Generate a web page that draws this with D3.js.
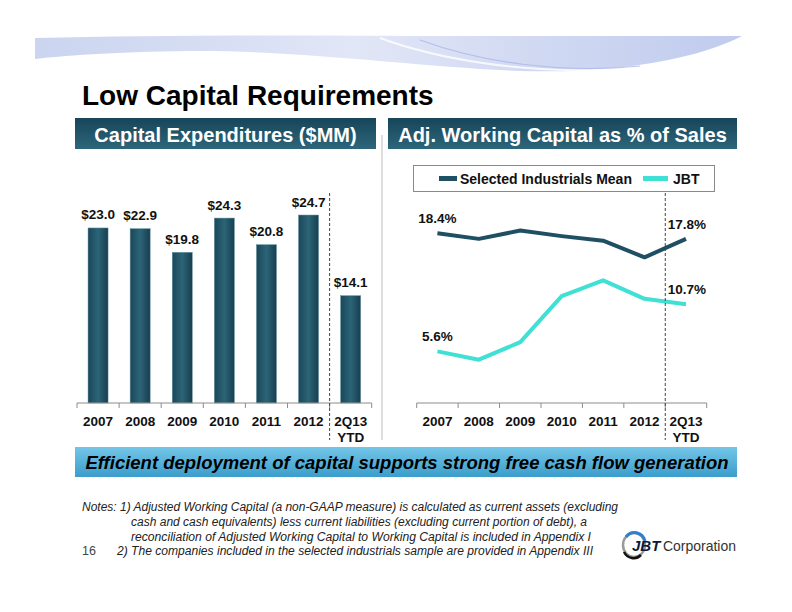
<!DOCTYPE html>
<html>
<head>
<meta charset="utf-8">
<script src="https://cdn.jsdelivr.net/npm/d3@7"></script>
<style>
  body { margin: 0; background: #fff; }
  svg { display: block; font-family: "Liberation Sans", Arial, sans-serif; }
</style>
</head>
<body>
<svg id="slide" width="792" height="612"></svg>
<script>
// chart data
const years = ["2007", "2008", "2009", "2010", "2011", "2012", "2Q13"];
const yearLines = [["2007"], ["2008"], ["2009"], ["2010"], ["2011"], ["2012"], ["2Q13", "YTD"]];
const capex = [23.0, 22.9, 19.8, 24.3, 20.8, 24.7, 14.1];
const industrialsMean = [18.4, 17.8, 18.7, 18.1, 17.6, 15.8, 17.8];
const jbtWc = [5.6, 4.7, 6.6, 11.6, 13.3, 11.3, 10.7];
const seriesNames = ["Selected Industrials Mean", "JBT"];
const notes = [
  "Notes: 1) Adjusted Working Capital (a non-GAAP measure) is calculated as current assets (excluding",
  "cash and cash equivalents) less current liabilities (excluding current portion of debt), a",
  "reconciliation of Adjusted Working Capital to Working Capital is included in Appendix I",
  "2) The companies included in the selected industrials sample are provided in Appendix III"
];

const svg = d3.select("#slide");
const defs = svg.append("defs");

function grad(id, stops, vertical) {
  const g = defs.append("linearGradient").attr("id", id)
      .attr("x1", 0).attr("y1", 0)
      .attr("x2", vertical ? 0 : 1).attr("y2", vertical ? 1 : 0);
  stops.forEach(([o, c, op]) => g.append("stop").attr("offset", o).attr("stop-color", c).attr("stop-opacity", op == null ? 1 : op));
}
grad("swoosh", [[0, "#c5d0ee", 0.9], [0.45, "#e2e7f7", 1], [1, "#b9c6ec", 0.9]]);
grad("hdr", [[0, "#174559"], [1, "#2d667b"]], true);
grad("bar", [[0, "#1a4759"], [0.5, "#2c6477"], [1, "#173f50"]]);
grad("banner", [[0, "#74c6e8"], [1, "#3b9dcb"]], true);

// header swoosh
svg.append("path")
    .attr("d", "M35,38 C150,35 300,35 420,36 L742,36 C700,58 620,74 520,71 C420,67 300,50 190,51 C110,52 60,56 35,59 Z")
    .attr("fill", "url(#swoosh)");
svg.append("path")
    .attr("d", "M380,38 C440,60 520,72 600,70 C660,68 710,55 742,38")
    .attr("fill", "none").attr("stroke", "#fff").attr("stroke-width", 2).attr("opacity", 0.8);
svg.append("path")
    .attr("d", "M420,40 C480,62 560,74 640,66")
    .attr("fill", "none").attr("stroke", "#a9b8e6").attr("stroke-width", 1.2).attr("opacity", 0.8);

svg.append("text").attr("x", 82).attr("y", 105)
    .attr("font-size", 28).attr("font-weight", "bold").attr("fill", "#000")
    .text("Low Capital Requirements");

// section headers
[[75, 376, "Capital Expenditures ($MM)"], [388, 737, "Adj. Working Capital as % of Sales"]].forEach(([x0, x1, t]) => {
  svg.append("rect").attr("x", x0).attr("y", 118).attr("width", x1 - x0).attr("height", 31).attr("fill", "url(#hdr)");
  svg.append("text").attr("x", (x0 + x1) / 2).attr("y", 141.5).attr("text-anchor", "middle")
      .attr("font-size", 20).attr("font-weight", "bold").attr("fill", "#fff").text(t);
});

svg.append("line").attr("x1", 382).attr("x2", 382).attr("y1", 135).attr("y2", 440)
    .attr("stroke", "#bdbdbd").attr("stroke-width", 1);

const baseY = 403;

function categoryAxis(x) {
  const g = svg.append("g");
  g.append("line").attr("x1", x.range()[0]).attr("x2", x.range()[1])
      .attr("y1", baseY).attr("y2", baseY).attr("stroke", "#8c8c8c");
  d3.range(years.length + 1).forEach(i => {
    const tx = x.range()[0] + i * x.step();
    g.append("line").attr("x1", tx).attr("x2", tx).attr("y1", baseY).attr("y2", baseY + 5).attr("stroke", "#8c8c8c");
  });
  const lab = g.selectAll("text.cat").data(years).join("text")
      .attr("class", "cat")
      .attr("x", d => x(d) + x.bandwidth() / 2)
      .attr("y", 425.5)
      .attr("text-anchor", "middle").attr("font-size", 13.5).attr("font-weight", "bold").attr("fill", "#111");
  lab.each(function(d, i) {
    yearLines[i].forEach((s, k) => d3.select(this).append("tspan")
        .attr("x", x(d) + x.bandwidth() / 2).attr("dy", k ? 16 : 0).text(s));
  });
  const dx = x.range()[0] + 6 * x.step();
  g.append("line").attr("x1", dx).attr("x2", dx).attr("y1", 193).attr("y2", 440)
      .attr("stroke", "#444").attr("stroke-dasharray", "3,2");
}

// left: capital expenditures bars
const xL = d3.scaleBand().domain(years).range([77, 371.7]).paddingInner(0.525).paddingOuter(0.2625);
const yL = d3.scaleLinear().domain([0, 25]).range([baseY, baseY - 25 * 7.61]);
const fmt$ = d3.format("$.1f");

svg.append("g").selectAll("rect").data(capex).join("rect")
    .attr("x", (d, i) => xL(years[i]))
    .attr("y", d => yL(d))
    .attr("width", xL.bandwidth())
    .attr("height", d => baseY - yL(d))
    .attr("fill", "url(#bar)")
    .attr("stroke", "#5f8e9c").attr("stroke-width", 0.5);

svg.append("g").selectAll("text").data(capex).join("text")
    .attr("x", (d, i) => xL(years[i]) + xL.bandwidth() / 2)
    .attr("y", d => yL(d) - 8.5)
    .attr("text-anchor", "middle").attr("font-size", 13.5).attr("font-weight", "bold").attr("fill", "#111")
    .text(d => fmt$(d));

categoryAxis(xL);

// right: working capital lines
const xR = d3.scaleBand().domain(years).range([416.7, 706.7]);
const yR = d3.scaleLinear().domain([0, 20]).range([baseY, baseY - 20 * 9.22]);
const line = d3.line().x((d, i) => xR(years[i]) + xR.bandwidth() / 2).y(d => yR(d));
const colors = ["#1f4f63", "#40e0d4"];

[industrialsMean, jbtWc].forEach((s, k) => {
  svg.append("path").datum(s).attr("d", line)
      .attr("fill", "none").attr("stroke", colors[k]).attr("stroke-width", 4)
      .attr("stroke-linejoin", "round");
  [0, s.length - 1].forEach(i => {
    svg.append("text")
        .attr("x", xR(years[i]) + xR.bandwidth() / 2 + (i ? 1 : 0))
        .attr("y", yR(s[i]) - 10)
        .attr("text-anchor", "middle").attr("font-size", 13.5).attr("font-weight", "bold").attr("fill", "#111")
        .text(s[i].toFixed(1) + "%");
  });
});

categoryAxis(xR);

// legend
svg.append("rect").attr("x", 413.5).attr("y", 165.5).attr("width", 301).attr("height", 26)
    .attr("fill", "#fff").attr("stroke", "#8a8a8a");
[[439, 460, 0], [643, 673, 1]].forEach(([lx, tx, k]) => {
  svg.append("line").attr("x1", lx).attr("x2", lx + (k ? 25 : 18)).attr("y1", 178.5).attr("y2", 178.5)
      .attr("stroke", colors[k]).attr("stroke-width", 5);
  svg.append("text").attr("x", tx).attr("y", 183.5).attr("font-size", 14).attr("font-weight", "bold")
      .attr("fill", "#111").text(seriesNames[k]);
});

// bottom banner
svg.append("rect").attr("x", 75).attr("y", 447).attr("width", 662).attr("height", 30).attr("fill", "url(#banner)");
svg.append("text").attr("x", 407).attr("y", 469).attr("text-anchor", "middle")
    .attr("font-size", 18.5).attr("font-weight", "bold").attr("font-style", "italic").attr("fill", "#000")
    .text("Efficient deployment of capital supports strong free cash flow generation");

// notes
const noteX = [82, 131, 131, 117], noteW = [536, 456, 460, 476], noteY = [511, 526, 541, 555];
notes.forEach((t, i) => {
  svg.append("text").attr("x", noteX[i]).attr("y", noteY[i])
      .attr("font-family", "'Liberation Sans Narrow', 'Arial Narrow', 'Liberation Sans', sans-serif")
      .attr("font-size", 12.5).attr("font-style", "italic").attr("fill", "#222")
      .attr("textLength", noteW[i]).attr("lengthAdjust", "spacingAndGlyphs")
      .text(t);
});
svg.append("text").attr("x", 82).attr("y", 555).attr("font-size", 12.5).attr("fill", "#444")
    .attr("font-family", "'Liberation Sans Narrow', 'Liberation Sans', sans-serif").text("16");

// logo
const logo = svg.append("g");
logo.append("ellipse").attr("cx", 634).attr("cy", 545).attr("rx", 11).attr("ry", 12)
    .attr("fill", "none").attr("stroke", "#9a9a9a").attr("stroke-width", 2.5);
logo.append("path").attr("d", "M626,537 A11,12 0 0,1 645,541")
    .attr("fill", "none").attr("stroke", "#2f7fd0").attr("stroke-width", 3);
logo.append("path").attr("d", "M624,552 A11,12 0 0,0 641,555")
    .attr("fill", "none").attr("stroke", "#111").attr("stroke-width", 2.5);
logo.append("text").attr("x", 632).attr("y", 551).attr("font-size", 15).attr("font-weight", "bold")
    .attr("font-style", "italic").attr("fill", "#0d1a3a").text("JBT");
logo.append("text").attr("x", 663).attr("y", 551).attr("font-size", 14.5).attr("fill", "#333")
    .attr("textLength", 73).attr("lengthAdjust", "spacingAndGlyphs").text("Corporation");
</script>
</body>
</html>
